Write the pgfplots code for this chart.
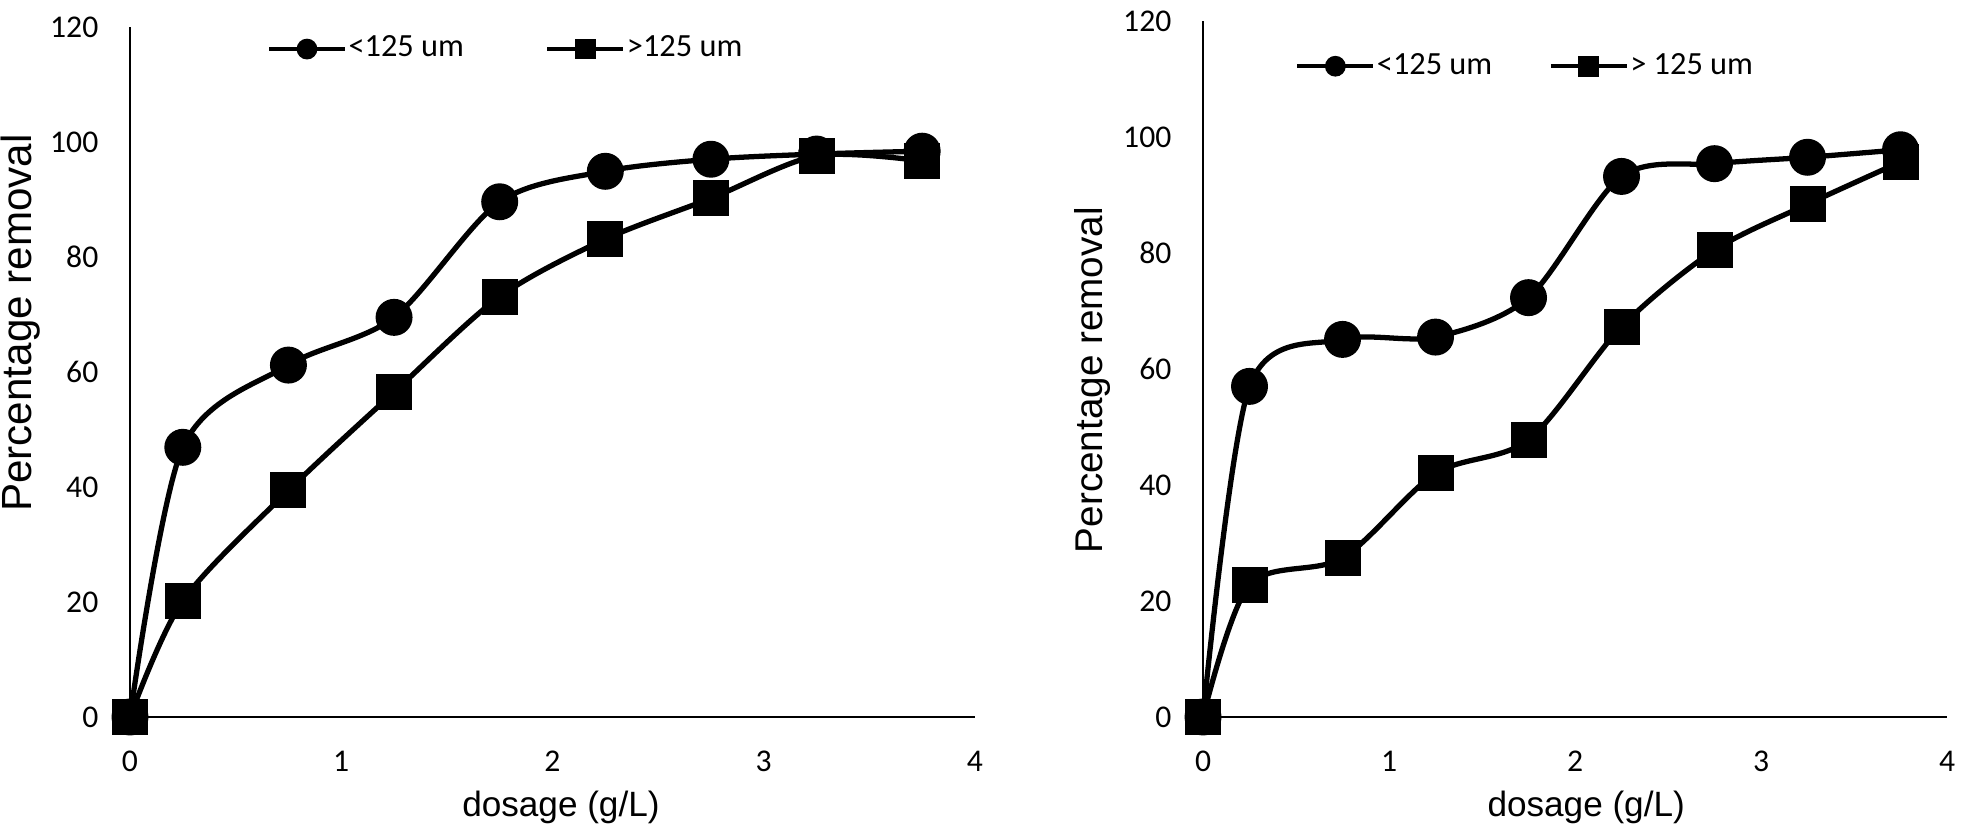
\documentclass[border=0pt]{standalone}
\usepackage{pgfplots}
\pgfplotsset{compat=1.18}
\usepackage{fontspec}
\setmainfont{Carlito}
\newfontfamily\arial{Liberation Sans}

\pgfplotsset{
  mystyle/.style={
    scale only axis,
    axis lines=left,
    axis line style={-, line width=0.6pt, black},
    xmin=0, xmax=4, ymin=0, ymax=120,
    xtick={0,1,2,3,4}, ytick={0,20,...,120},
    major tick length=0pt,
    clip=false,
    tick label style={font=\fontsize{9}{11}\selectfont},
    /pgf/number format/assume math mode=true,
    yticklabel style={anchor=east, inner sep=0pt, xshift=-3.1mm},
    xticklabel style={anchor=north, inner sep=0pt, yshift=-3.3mm},
    xlabel={dosage (g/L)},
    ylabel={Percentage removal},
    xlabel style={at={(axis description cs:0.51,0)}, anchor=north, inner sep=0pt, yshift=-7.3mm, font=\arial\fontsize{10}{12}\selectfont},
    legend columns=2,
    legend cell align=left,
    legend image code/.code={\draw[mark repeat=2,mark phase=2,##1,line width=1.2pt,mark size=0.95mm] plot coordinates {(0mm,0mm)(3.8mm,0mm)(7.6mm,0mm)};},
  },
  circ/.style={black, line width=1.5pt, smooth, tension=0.5, mark=*, mark size=1.76mm, mark options={line width=0.5pt}},
  sq/.style={black, line width=1.5pt, smooth, tension=0.5, mark=square*, mark size=1.71mm, mark options={line width=0.5pt}},
}

\begin{document}
\begin{tikzpicture}
\path[use as bounding box] (0,0) rectangle (19.61cm,8.32cm);

\begin{axis}[mystyle,
  at={(1.30cm,1.15cm)}, anchor=south west,
  width=8.45cm, height=6.90cm,
  ylabel style={at={(axis description cs:-0.129,0.571)}, anchor=center, inner sep=0pt, font=\arial\fontsize{12}{14}\selectfont},
  legend style={draw=none, fill=none, at={(axis description cs:0.162,0.968)}, anchor=west, inner sep=0pt, outer sep=0pt,
    font=\fontsize{9.2}{11}\selectfont, nodes={inner sep=0.4pt},
    /tikz/every even column/.append style={column sep=8mm}},
]
\addplot[circ] coordinates {(0,0) (0.25,46.9) (0.75,61.2) (1.25,69.5) (1.75,89.6) (2.25,94.9) (2.75,97.0) (3.25,97.9) (3.75,98.4)};
\addlegendentry{<125 um}
\addplot[sq] coordinates {(0,0) (0.25,20.2) (0.75,39.4) (1.25,56.5) (1.75,73.1) (2.25,83.1) (2.75,90.2) (3.25,97.6) (3.75,96.7)};
\addlegendentry{>125 um}
\end{axis}

\begin{axis}[mystyle,
  at={(12.03cm,1.15cm)}, anchor=south west,
  width=7.44cm, height=6.96cm,
  xlabel style={at={(axis description cs:0.515,0)}},
  ylabel style={at={(axis description cs:-0.149,0.484)}, anchor=center, inner sep=0pt, font=\arial\fontsize{11}{13}\selectfont},
  legend style={draw=none, fill=none, at={(axis description cs:0.124,0.935)}, anchor=west, inner sep=0pt, outer sep=0pt,
    font=\fontsize{9.2}{11}\selectfont, nodes={inner sep=0.4pt},
    /tikz/every even column/.append style={column sep=5.5mm}},
]
\addplot[circ] coordinates {(0,0) (0.25,57.0) (0.75,65.1) (1.25,65.5) (1.75,72.3) (2.25,93.2) (2.75,95.4) (3.25,96.5) (3.75,97.8)};
\addlegendentry{<125 um}
\addplot[sq] coordinates {(0,0) (0.25,22.8) (0.75,27.4) (1.25,42.0) (1.75,47.8) (2.25,67.3) (2.75,80.5) (3.25,88.4) (3.75,95.7)};
\addlegendentry{> 125 um}
\end{axis}
\end{tikzpicture}
\end{document}
